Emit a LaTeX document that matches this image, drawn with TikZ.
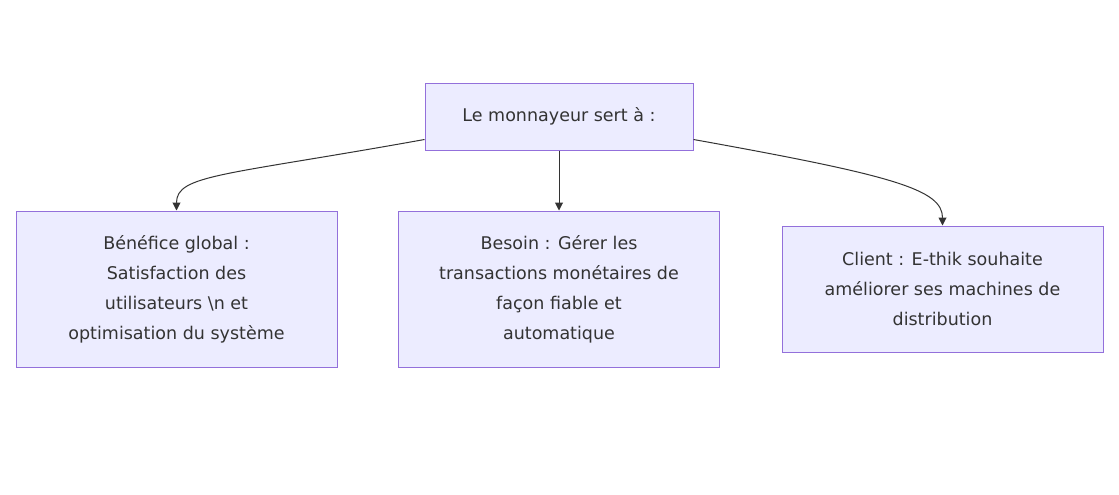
\documentclass[tikz,border=0pt]{standalone}
\usepackage{fontspec}
\setmainfont{DejaVu Sans}
\usetikzlibrary{arrows.meta}
\definecolor{boxfill}{HTML}{ECECFF}
\definecolor{boxline}{HTML}{9370DB}
\definecolor{ink}{HTML}{333333}
\begin{document}
\begin{tikzpicture}[x=1pt,y=-1pt,
		box/.style={draw=boxline,fill=boxfill,line width=1pt,text=ink,align=center,font=\fontsize{17.5}{30}\selectfont,inner sep=0pt},
		arr/.style={draw=ink,line width=1pt,-{Triangle[length=8pt,width=8pt]}}]
	\useasboundingbox[fill=white] (0,0) rectangle (1119,495);
	\node[box,minimum width=268pt,minimum height=67pt] (top) at (559,116.5) {Le monnayeur sert à :};
	\node[box,minimum width=321pt,minimum height=156pt] (benefice) at (176.5,289) {Bénéfice global :\\Satisfaction des\\utilisateurs \textbackslash n et\\optimisation du système};
	\node[box,minimum width=321pt,minimum height=156pt] (besoin) at (559,289) {Besoin : Gérer les\\transactions monétaires de\\façon fiable et\\automatique};
	\node[box,minimum width=321pt,minimum height=126pt] (client) at (942.5,289) {Client : E-thik souhaite\\améliorer ses machines de\\distribution};
	% liens
	\draw[arr] ([yshift=11pt]top.south west) .. controls +(-200,36) and +(0,-36) .. (benefice.north);
	\draw[arr] (top.south) -- (besoin.north);
	\draw[arr] ([yshift=11pt]top.south east) .. controls +(200,36) and +(0,-36) .. (client.north);
\end{tikzpicture}
\end{document}
